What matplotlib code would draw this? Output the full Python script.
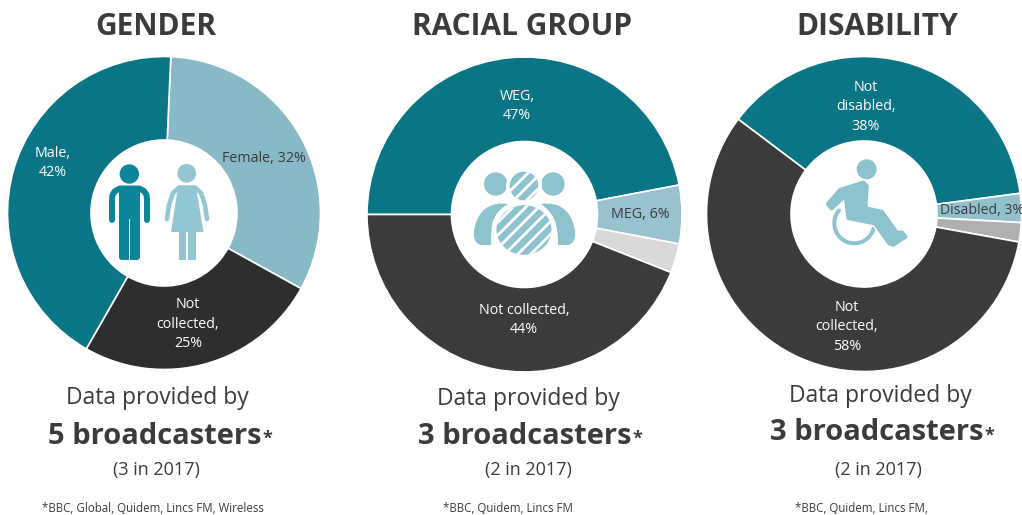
import numpy as np
import matplotlib
matplotlib.use('Agg')
import matplotlib.pyplot as plt
from matplotlib.patches import Circle, Ellipse, PathPatch, Rectangle, FancyBboxPatch
from matplotlib.path import Path

plt.rcParams['font.family'] = ['Open Sans', 'DejaVu Sans']

W, H = 1022, 515

# data, clockwise order of the slices
gender_names = ['Female', 'Not\ncollected', 'Male']
gender_values = [32, 25, 42]
racial_names = ['WEG', 'MEG', '', 'Not collected']
racial_values = [47, 6, 3, 44]
disability_names = ['Not\ndisabled', 'Disabled', '', 'Not\ncollected']
disability_values = [38, 3, 2, 58]

titles = ['GENDER', 'RACIAL GROUP', 'DISABILITY']
broadcasters = ['5 broadcasters', '3 broadcasters', '3 broadcasters']
previous_year = ['(3 in 2017)', '(2 in 2017)', '(2 in 2017)']
footnotes = ['*BBC, Global, Quidem, Lincs FM, Wireless', '*BBC, Quidem, Lincs FM', '*BBC, Quidem, Lincs FM,']

TEAL = '#0A7585'
DARK = '#3A3B3D'

fig = plt.figure(figsize=(W / 100, H / 100), dpi=100)


def donut(cx, cy, r, values, colors, start):
    ax = fig.add_axes([(cx - r) / W, 1 - (cy + r) / H, 2 * r / W, 2 * r / H])
    ax.pie(values, colors=colors, startangle=start, counterclock=False, radius=1,
           wedgeprops={'width': 1 - 73 / r, 'edgecolor': 'white', 'linewidth': 1.2})
    ax.set_xlim(-1, 1)
    ax.set_ylim(-1, 1)
    ax.axis('off')


donut(164, 213, 156.5, gender_values, ['#87BAC6', '#2D2E30', TEAL], 87.5)
donut(524.5, 214.5, 157.5, racial_values, [TEAL, '#98C2CE', '#D9D9D9', DARK], 180)
donut(864, 214, 157.5, disability_values, [TEAL, '#92C0CC', '#AFB0B1', DARK], 143)

# overlay in pixel coordinates for the text and icons
ov = fig.add_axes([0, 0, 1, 1])
ov.set_xlim(0, W)
ov.set_ylim(H, 0)
ov.axis('off')
ov.patch.set_alpha(0)


def label(x, y, s, color='white', size=10.3, ha='center'):
    ov.text(x, y, s, color=color, fontsize=size, ha=ha, va='center', linespacing=1.45, clip_on=True)


label(53, 163, f'{gender_names[2]},\n{gender_values[2]}%')
label(264, 158, f'{gender_names[0]}, {gender_values[0]}%', DARK)
label(188, 324, f'{gender_names[1]},\n{gender_values[1]}%')
label(517, 106, f'{racial_names[0]},\n{racial_values[0]}%')
label(640, 215, f'{racial_names[1]}, {racial_values[1]}%', DARK)
label(524, 320, f'{racial_names[3]},\n{racial_values[3]}%')
label(866, 107, f'{disability_names[0]},\n{disability_values[0]}%')
label(939.5, 210, f'{disability_names[1]}, {disability_values[1]}%', DARK, size=10.1, ha='left')
label(847, 327, f'{disability_names[3]},\n{disability_values[3]}%')

title_x = [156, 522, 877]
for x, s in zip(title_x, titles):
    ov.text(x, 27, s, color=DARK, fontsize=21.5, fontweight='bold', ha='center', va='center')

by_x = [157, 528, 880]
by_y = [398, 399, 396]
big_x = [48, 418, 770]
big_y = [436, 436, 433]
year_x = [156, 528, 878]
foot_x = [153, 508, 861]
for i in range(3):
    ov.text(by_x[i], by_y[i], 'Data provided by', color=DARK, fontsize=16.5, ha='center', va='center')
    t = ov.text(big_x[i], big_y[i], broadcasters[i], color=DARK, fontsize=21, fontweight='bold',
                ha='left', va='center')
    bb = t.get_window_extent(fig.canvas.get_renderer())
    ov.text(bb.x1 + 1, big_y[i] + 3, '*', color=DARK, fontsize=13, fontweight='bold', ha='left', va='center')
    ov.text(year_x[i], 470, previous_year[i], color=DARK, fontsize=13, ha='center', va='center')
    ov.text(foot_x[i], 508, footnotes[i], color=DARK, fontsize=8.3, ha='center', va='center')


def stroke(pts, color, px):
    pts = np.array(pts, dtype=float)
    ov.plot(pts[:, 0], pts[:, 1], color=color, lw=px * 0.72, solid_capstyle='round',
            solid_joinstyle='round', zorder=5)


def bezier(pts, color, zorder=5):
    # shape from cubic segments: first point then triples of control points
    codes = [Path.MOVETO] + [Path.CURVE4] * (len(pts) - 1)
    p = PathPatch(Path(pts, codes), facecolor=color, edgecolor='none', zorder=zorder)
    ov.add_patch(p)
    return p


def stripes(patch, x0, x1, y0, y1):
    # white diagonal stripes clipped to a shape
    for c in np.arange(x0 - (y1 - y0), x1 + 1, 13):
        line, = ov.plot([c, c + (y1 - y0)], [y1, y0], color='white', lw=2.0, zorder=patch.get_zorder() + 1)
        line.set_clip_path(patch)


# man
MAN = '#0B8599'
ov.add_patch(Circle((129.3, 174), 9, color=MAN, zorder=5))
ov.add_patch(FancyBboxPatch((119, 186), 21, 74, boxstyle='round,pad=0,rounding_size=3', fc=MAN, ec='none', zorder=5))
ov.add_patch(Rectangle((128.6, 219), 1.6, 42, fc='white', ec='none', zorder=6))
stroke([(112, 220), (112, 200), (112.5, 195), (115, 191), (120, 188.5), (130, 188.5),
        (139, 188.5), (144, 191), (146.5, 195), (147, 200), (147, 220)], MAN, 6)

# woman
WOMAN = '#92C6D2'
ov.add_patch(Circle((186.7, 173.3), 8.7, color=WOMAN, zorder=5))
ov.add_patch(Rectangle((178.5, 225), 17, 35, fc=WOMAN, ec='none', zorder=5))
ov.add_patch(Rectangle((186.2, 232), 1.4, 29, fc='white', ec='none', zorder=6))
stroke([(167, 219), (169, 205), (173, 193), (179, 187.5), (195, 187.5), (201, 193), (205, 205), (207, 219)], WOMAN, 4.5)
ov.fill([178, 196, 203.5, 171], [187, 187, 232, 232], color=WOMAN, lw=0, zorder=5)

# group of people
PEOPLE = '#8CC3CE'
ov.add_patch(Circle((495.7, 184), 11, color=PEOPLE, zorder=5))
ov.add_patch(Circle((553, 184), 11, color=PEOPLE, zorder=5))
ov.add_patch(Circle((524, 186), 18, fc='white', ec='none', zorder=5.5))
head = Circle((524, 186), 14.3, fc=PEOPLE, ec='none', zorder=6)
ov.add_patch(head)
stripes(head, 505, 545, 170, 202)
left_body = [(481, 245), (471, 243), (473, 228), (478, 218), (483, 208), (492, 202), (508, 204),
             (498, 212), (490, 224), (491, 245), (488, 245), (485, 245), (481, 245)]
bezier(left_body, PEOPLE)
bezier([(1049 - x, y) for x, y in left_body], PEOPLE)
ov.add_patch(Ellipse((524, 230), 65, 59, fc='white', ec='none', zorder=5.5))
body = Ellipse((524, 230), 55, 49.5, fc=PEOPLE, ec='none', zorder=6)
ov.add_patch(body)
stripes(body, 490, 560, 204, 256)

# wheelchair
CHAIR = '#8CC3CE'
ov.add_patch(Circle((866.7, 169.3), 9.3, color=CHAIR, zorder=5))
ang = np.radians(np.linspace(14, 220, 50))
stroke(np.column_stack([854.3 + 20 * np.cos(ang), 223.3 + 20 * np.sin(ang)]), CHAIR, 4)
chair_x = np.array([384, 420, 490, 500, 496, 545, 590, 606, 616, 580, 568, 525, 445, 437, 395]) / 3 + 700
chair_y = np.array([432, 390, 368, 378, 445, 455, 518, 518, 530, 554, 550, 490, 474, 405, 445]) / 3 + 60
ov.fill(chair_x, chair_y, fc='white', ec='white', lw=5, zorder=5.2)
ov.fill(chair_x, chair_y, fc=CHAIR, ec=CHAIR, lw=3, joinstyle='round', zorder=5.5)

fig.savefig('out.png', dpi=100, facecolor='white')
